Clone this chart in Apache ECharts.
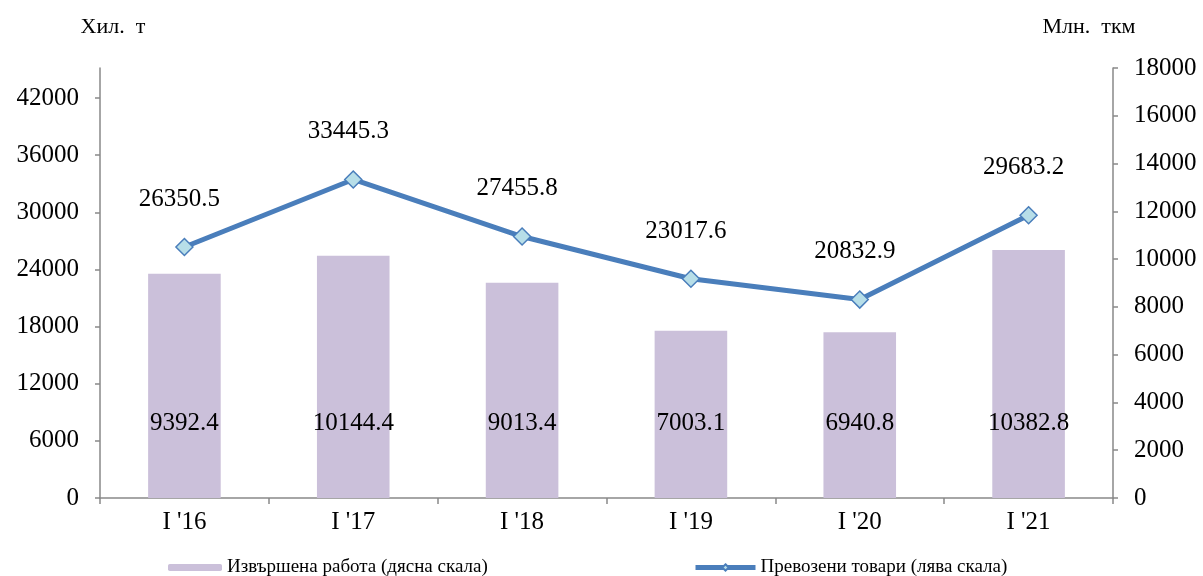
<!DOCTYPE html>
<html>
<head>
<meta charset="utf-8">
<script src="https://cdn.jsdelivr.net/npm/echarts@6/dist/echarts.min.js"></script>
<style>
  html, body { margin: 0; padding: 0; background: #fff; }
  #chart { width: 1203px; height: 576px; }
</style>
</head>
<body>
<div id="chart"></div>
<script>
// категории и данни
const categories = ["I '16", "I '17", "I '18", "I '19", "I '20", "I '21"];
const rabota = [9392.4, 10144.4, 9013.4, 7003.1, 6940.8, 10382.8]; // млн. ткм, дясна скала
const tovari = [26350.5, 33445.3, 27455.8, 23017.6, 20832.9, 29683.2]; // хил. т, лява скала
const leftTicks = [0, 6000, 12000, 18000, 24000, 30000, 36000, 42000];

const font = "Liberation Serif";
const axisGray = "#898989";
const plain = (v) => String(v); // без разделители на хилядите

const chart = echarts.init(document.getElementById("chart"));
const option = {
  animation: false,
  textStyle: { fontFamily: font },
  grid: { left: 100, right: 90, top: 68, bottom: 78 },
  legend: [
    {
      data: ["Извършена работа (дясна скала)"],
      left: 163,
      top: 553,
      itemWidth: 54,
      itemHeight: 7,
      itemGap: 6,
      textStyle: { fontFamily: font, fontSize: 19, color: "#000" },
    },
    {
      data: ["Превозени товари (лява скала)"],
      left: 688,
      top: 553,
      itemWidth: 60,
      itemHeight: 8,
      lineStyle: { width: 5 },
      textStyle: { fontFamily: font, fontSize: 19, color: "#000" },
    },
  ],
  xAxis: {
    type: "category",
    data: categories,
    axisLine: { lineStyle: { color: axisGray, width: 1.5 } },
    axisTick: { show: true, length: 6, lineStyle: { color: axisGray, width: 1.5 } },
    axisLabel: { color: "#000", fontSize: 25, fontFamily: font, margin: 12 },
  },
  yAxis: [
    {
      type: "value",
      min: 0,
      max: 45150,
      name: "Хил.  т",
      nameLocation: "end",
      nameGap: 30,
      nameTextStyle: { color: "#000", fontSize: 22, fontFamily: font, padding: [0, 0, 0, 26], verticalAlign: "bottom" },
      axisLine: { show: true, lineStyle: { color: axisGray, width: 1.5 } },
      axisTick: { show: true, length: 5, customValues: leftTicks, lineStyle: { color: axisGray, width: 1.5 } },
      axisLabel: { color: "#000", fontSize: 25, fontFamily: font, margin: 21, customValues: leftTicks, formatter: plain },
      splitLine: { show: false },
    },
    {
      type: "value",
      min: 0,
      max: 18000,
      interval: 2000,
      name: "Млн.  ткм",
      nameLocation: "end",
      nameGap: 30,
      nameTextStyle: { color: "#000", fontSize: 22, fontFamily: font, padding: [0, 48, 0, 0], verticalAlign: "bottom" },
      axisLine: { show: true, lineStyle: { color: axisGray, width: 1.5 } },
      axisTick: { show: true, length: 5, lineStyle: { color: axisGray, width: 1.5 } },
      axisLabel: { color: "#000", fontSize: 25, fontFamily: font, margin: 21, formatter: plain },
      splitLine: { show: false },
    },
  ],
  series: [
    {
      name: "Извършена работа (дясна скала)",
      type: "bar",
      yAxisIndex: 1,
      data: rabota,
      barWidth: "43%",
      itemStyle: { color: "#CBC0DA" },
      label: {
        show: true,
        position: "insideBottom",
        distance: 62,
        color: "#000",
        fontSize: 25,
        fontFamily: font,
      },
    },
    {
      name: "Превозени товари (лява скала)",
      type: "line",
      yAxisIndex: 0,
      data: tovari,
      symbol: "diamond",
      symbolSize: 17,
      lineStyle: { color: "#4A7EBB", width: 5 },
      itemStyle: { color: "#B7DEE8", borderColor: "#4A7EBB", borderWidth: 1.5 },
      label: {
        show: true,
        position: "top",
        distance: 26,
        offset: [-5, 0],
        color: "#000",
        fontSize: 25,
        fontFamily: font,
      },
      z: 5,
    },
  ],
};
chart.setOption(option);
</script>
</body>
</html>
